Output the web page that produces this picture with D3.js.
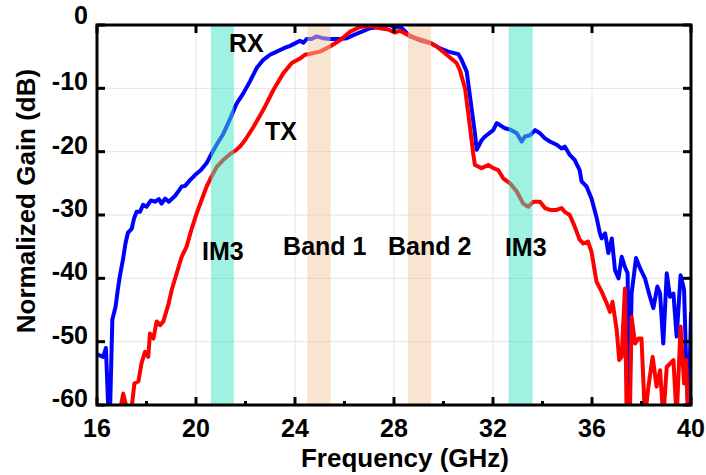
<!DOCTYPE html>
<html>
<head>
<meta charset="utf-8">
<script src="https://cdn.jsdelivr.net/npm/d3@7/dist/d3.min.js"></script>
<style>
  html, body { margin: 0; padding: 0; background: #fff; }
  svg { display: block; }
  text { font-family: "Liberation Sans", Arial, sans-serif; font-weight: bold; fill: #000; }
</style>
</head>
<body>
<svg id="chart" width="706" height="475"></svg>
<script>
// ---- Data ----
const xTicks = [16, 20, 24, 28, 32, 36, 40];
const xMinorTicks = [18, 22, 26, 30, 34, 38];
const yTicks = [0, -10, -20, -30, -40, -50, -60];

// Shaded regions [start GHz, end GHz]
const im3Bands = [[20.6, 21.53], [32.63, 33.6]];
const signalBands = [[24.5, 25.44], [28.56, 29.5]];

// RX normalized gain [GHz, dB]
const rxData = [
  [16.0,-52.0],[16.05,-52.1],[16.25,-52.4],[16.36,-51.0],[16.47,-62],[16.52,-62],[16.62,-46.5],
  [16.75,-44.5],[16.84,-41.8],[16.93,-39.5],[17.05,-37],[17.15,-34.5],[17.25,-32.8],[17.4,-32.2],
  [17.5,-30.5],[17.6,-29.5],[17.74,-29.5],[17.86,-28.4],[18.0,-28.7],[18.18,-27.7],[18.34,-27.9],
  [18.5,-27.5],[18.61,-28.2],[18.75,-27.4],[18.9,-27.9],[19.15,-27.0],[19.3,-26.2],[19.42,-25.5],
  [19.56,-25.4],[19.76,-24.5],[19.96,-23.7],[20.2,-22.9],[20.43,-21.8],[20.63,-20.3],[20.85,-18.8],
  [21.1,-17.2],[21.37,-14.9],[21.64,-12.4],[21.91,-10.8],[22.18,-8.9],[22.45,-6.8],[22.72,-5.5],
  [22.99,-4.7],[23.26,-4.2],[23.53,-3.7],[23.8,-3.3],[24.0,-2.9],[24.2,-2.5],[24.34,-2.8],
  [24.47,-2.2],[24.67,-2.2],[24.88,-1.8],[25.14,-2.1],[25.41,-2.2],[25.82,-2.2],[26.09,-2.1],
  [26.36,-1.6],[26.7,-1.06],[27.03,-0.5],[27.43,-0.3],[27.84,0],[28.04,-0.4],[28.24,-0.2],
  [28.45,-1.0],[28.65,-1.8],[29.05,-2.4],[29.52,-2.9],[29.86,-3.7],[30.19,-4.2],[30.6,-4.6],
  [30.73,-5.5],[30.94,-7.4],[31.07,-11.3],[31.27,-17.1],[31.34,-19.7],[31.54,-18.2],[31.68,-17.6],
  [31.88,-17.0],[32.01,-16.6],[32.15,-15.5],[32.28,-15.8],[32.48,-16.3],[32.69,-16.5],[32.96,-17.1],
  [33.16,-18.4],[33.29,-17.6],[33.5,-17.4],[33.7,-16.6],[33.9,-17.1],[34.1,-17.9],[34.3,-18.4],
  [34.57,-18.9],[34.77,-19.5],[34.9,-19.2],[35.1,-20.5],[35.3,-21.3],[35.5,-22.9],[35.58,-24.7],
  [35.78,-25.5],[35.98,-27.4],[36.18,-30.3],[36.32,-32.9],[36.39,-33.7],[36.53,-32.9],[36.66,-36.0],
  [36.8,-33.7],[36.93,-38.7],[37.07,-40.0],[37.2,-36.6],[37.33,-38.2],[37.44,-39.2],[37.5,-62],
  [37.6,-42.4],[37.78,-36.8],[37.94,-38.4],[38.14,-40.0],[38.34,-42.9],[38.48,-44.7],[38.64,-41.3],
  [38.75,-42.4],[38.88,-50.3],[39.02,-39.2],[39.15,-42.9],[39.29,-42.4],[39.42,-49.2],[39.58,-39.5],
  [39.72,-41.8],[39.83,-56.6],[39.9,-62],[40.0,-45.5]
];

// TX normalized gain [GHz, dB]
const txData = [
  [16.6,-62],[16.76,-60.5],[16.95,-60.5],[17.06,-58.2],[17.2,-60.5],[17.4,-60.5],[17.51,-56.6],
  [17.67,-56.3],[17.8,-53.4],[17.94,-51.6],[18.07,-52.4],[18.14,-48.7],[18.28,-49.5],[18.41,-46.8],
  [18.55,-47.4],[18.68,-46.8],[18.88,-44.2],[19.02,-41.8],[19.22,-39.2],[19.42,-36.6],[19.62,-35.0],
  [19.83,-32.1],[20.03,-29.7],[20.23,-27.6],[20.43,-25.5],[20.63,-23.9],[20.84,-22.4],[21.1,-21.3],
  [21.37,-20.4],[21.6,-19.8],[21.78,-19.2],[21.98,-18.2],[22.32,-16.1],[22.72,-13.4],[23.12,-10.3],
  [23.53,-7.6],[23.87,-6.0],[24.2,-5.3],[24.4,-4.7],[24.67,-4.5],[25.01,-4.2],[25.41,-3.4],
  [25.82,-2.4],[26.22,-1.06],[26.63,-0.3],[27.03,-0.16],[27.43,-0.5],[27.77,-0.7],[28.04,-1.2],
  [28.24,-0.9],[28.58,-1.6],[28.92,-2.1],[29.33,-2.6],[29.73,-3.4],[30.13,-4.7],[30.53,-6.0],
  [30.66,-7.1],[30.87,-10],[31.07,-16.1],[31.2,-20.3],[31.27,-22.1],[31.54,-22.6],[31.81,-22.1],
  [32.01,-22.6],[32.21,-22.9],[32.41,-24.2],[32.69,-25.0],[32.96,-26.3],[33.22,-28.2],[33.43,-28.7],
  [33.63,-27.9],[33.9,-27.9],[34.1,-28.9],[34.3,-29.2],[34.57,-29.2],[34.77,-28.9],[34.9,-29.5],
  [35.1,-30.0],[35.3,-31.8],[35.5,-33.9],[35.65,-34.5],[35.84,-34.2],[35.98,-35.8],[36.18,-40.5],
  [36.39,-42.1],[36.59,-43.9],[36.73,-45.3],[36.83,-43.7],[37.0,-48.2],[37.1,-52.9],[37.2,-52.4],
  [37.33,-41.6],[37.4,-62],[37.53,-62],[37.6,-46.1],[37.74,-50.3],[37.88,-49.5],[38.0,-49.5],
  [38.14,-62],[38.28,-57.1],[38.45,-52.4],[38.61,-57.1],[38.75,-54.5],[38.88,-62],[39.02,-54.0],
  [39.29,-52.9],[39.42,-62],[39.58,-47.6],[39.72,-56.6],[39.8,-52.9],[39.89,-62]
];

// Annotation labels [text, GHz, dB] (anchor = left baseline)
const labels = [
  ["RX", 21.33, -4.3],
  ["TX", 22.79, -18.2],
  ["IM3", 20.24, -37.1],
  ["Band 1", 23.52, -36.3],
  ["Band 2", 27.76, -36.3],
  ["IM3", 32.48, -36.5]
];

// ---- Chart ----
const svg = d3.select("#chart");
const L = 97, R = 691, T = 25, B = 405;
const x = d3.scaleLinear().domain([16, 40]).range([L, R]);
const y = d3.scaleLinear().domain([-60, 0]).range([B, T]);

svg.append("defs").append("clipPath").attr("id", "clip")
  .append("rect").attr("x", L).attr("y", T).attr("width", R - L).attr("height", B - T);

// grid
const grid = svg.append("g").attr("stroke", "#e3e3e3").attr("stroke-width", 1);
grid.selectAll("line.gx").data(xTicks.slice(1, -1)).join("line")
  .attr("x1", d => x(d)).attr("x2", d => x(d)).attr("y1", T).attr("y2", B);
grid.selectAll("line.gy").data(yTicks.slice(1, -1)).join("line")
  .attr("y1", d => y(d)).attr("y2", d => y(d)).attr("x1", L).attr("x2", R);

// curves
const line = d3.line().x(d => x(d[0])).y(d => y(d[1]));
const plot = svg.append("g").attr("clip-path", "url(#clip)");
plot.append("path").datum(rxData).attr("d", line)
  .attr("fill", "none").attr("stroke", "#0000ff").attr("stroke-width", 4)
  .attr("stroke-linejoin", "round").attr("stroke-linecap", "round");
plot.append("path").datum(txData).attr("d", line)
  .attr("fill", "none").attr("stroke", "#ff0000").attr("stroke-width", 4)
  .attr("stroke-linejoin", "round").attr("stroke-linecap", "round");

// bands (semi-transparent overlays)
plot.selectAll("rect.im3").data(im3Bands).join("rect")
  .attr("x", d => x(d[0])).attr("width", d => x(d[1]) - x(d[0]))
  .attr("y", T).attr("height", B - T)
  .attr("fill", "#40e6c4").attr("fill-opacity", 0.5);
plot.selectAll("rect.sig").data(signalBands).join("rect")
  .attr("x", d => x(d[0])).attr("width", d => x(d[1]) - x(d[0]))
  .attr("y", T).attr("height", B - T)
  .attr("fill", "#f2c9a0").attr("fill-opacity", 0.5);

// frame
svg.append("rect").attr("x", L).attr("y", T).attr("width", R - L).attr("height", B - T)
  .attr("fill", "none").attr("stroke", "#000").attr("stroke-width", 3);

// ticks
const tk = svg.append("g").attr("stroke", "#000").attr("stroke-width", 3);
tk.selectAll("line.bx").data(xTicks).join("line")
  .attr("x1", d => x(d)).attr("x2", d => x(d)).attr("y1", B).attr("y2", B - 8);
tk.selectAll("line.bm").data(xMinorTicks).join("line")
  .attr("x1", d => x(d)).attr("x2", d => x(d)).attr("y1", B).attr("y2", B - 4);
tk.selectAll("line.tx").data(xTicks).join("line")
  .attr("x1", d => x(d)).attr("x2", d => x(d)).attr("y1", T).attr("y2", T + 8);
tk.selectAll("line.ly").data(yTicks).join("line")
  .attr("y1", d => y(d)).attr("y2", d => y(d)).attr("x1", L).attr("x2", L + 8);
tk.selectAll("line.ry").data(yTicks).join("line")
  .attr("y1", d => y(d)).attr("y2", d => y(d)).attr("x1", R).attr("x2", R - 8);

// tick labels
svg.selectAll("text.xl").data(xTicks).join("text")
  .attr("x", d => x(d)).attr("y", 437).attr("text-anchor", "middle")
  .attr("font-size", 25).text(d => d);
svg.selectAll("text.yl").data(yTicks).join("text")
  .attr("x", 88).attr("y", d => y(d) - (d === 0 ? 10 : 7)).attr("text-anchor", "end")
  .attr("dominant-baseline", "central").attr("font-size", 25).text(d => d);

// axis titles
svg.append("text").attr("x", 405).attr("y", 467).attr("text-anchor", "middle")
  .attr("font-size", 26).text("Frequency (GHz)");
svg.append("text").attr("transform", "translate(35,201) rotate(-90)")
  .attr("text-anchor", "middle").attr("font-size", 26).text("Normalized Gain (dB)");

// annotations
svg.selectAll("text.ann").data(labels).join("text")
  .attr("x", d => x(d[1])).attr("y", d => y(d[2]))
  .attr("font-size", 25).text(d => d[0]);
</script>
</body>
</html>
